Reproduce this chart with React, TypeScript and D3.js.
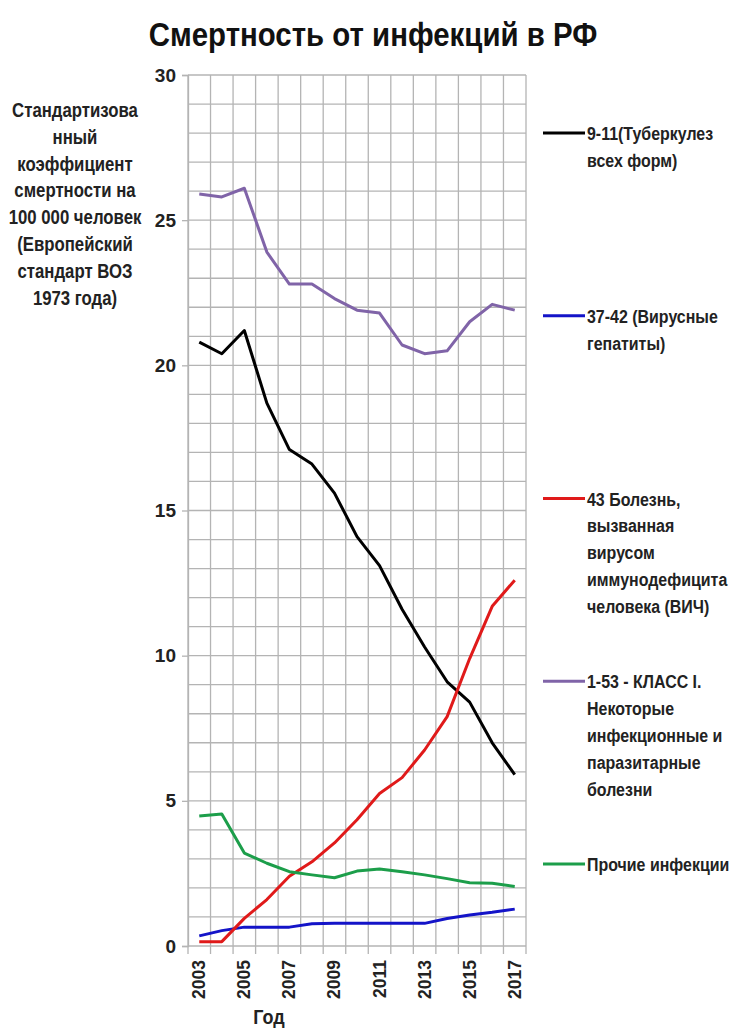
import React, { useEffect, useRef } from 'react';
import * as d3 from 'd3';

const years = ['2003', '2004', '2005', '2006', '2007', '2008', '2009', '2010', '2011', '2012', '2013', '2014', '2015', '2016', '2017'];

const tuberculosis = [20.8, 20.4, 21.2, 18.7, 17.1, 16.6, 15.6, 14.1, 13.1, 11.6, 10.3, 9.1, 8.4, 7.0, 5.9];
const hepatitis = [0.35, 0.53, 0.65, 0.65, 0.65, 0.77, 0.78, 0.78, 0.78, 0.78, 0.78, 0.95, 1.07, 1.16, 1.27];
const hiv = [0.15, 0.15, 0.95, 1.6, 2.4, 2.9, 3.55, 4.35, 5.25, 5.8, 6.75, 7.9, 9.9, 11.7, 12.6];
const classOne = [25.9, 25.8, 26.1, 23.9, 22.8, 22.8, 22.3, 21.9, 21.8, 20.7, 20.4, 20.5, 21.5, 22.1, 21.9];
const otherInfections = [4.48, 4.55, 3.2, 2.85, 2.56, 2.45, 2.35, 2.58, 2.65, 2.56, 2.45, 2.32, 2.18, 2.16, 2.05];

const yTicks = [0, 5, 10, 15, 20, 25, 30];

const series = [
  { name: 'tb', values: tuberculosis, color: '#000000', label: ['9-11(Туберкулез', 'всех форм)'] },
  { name: 'hep', values: hepatitis, color: '#1414c8', label: ['37-42 (Вирусные', 'гепатиты)'] },
  { name: 'hiv', values: hiv, color: '#e01a1a', label: ['43 Болезнь,', 'вызванная', 'вирусом', 'иммунодефицита', 'человека (ВИЧ)'] },
  { name: 'class1', values: classOne, color: '#8064a8', label: ['1-53 - КЛАСС I.', 'Некоторые', 'инфекционные и', 'паразитарные', 'болезни'] },
  { name: 'other', values: otherInfections, color: '#1c9e4a', label: ['Прочие инфекции'] },
];

const yTitle = ['Стандартизова', 'нный', 'коэффициент', 'смертности на', '100 000 человек', '(Европейский', 'стандарт ВОЗ', '1973 года)'];

const FONT = "'Liberation Sans Narrow', 'Arial Narrow', 'Liberation Sans', sans-serif";

const App: React.FC = () => {
  const svgRef = useRef<SVGSVGElement>(null);

  useEffect(() => {
    if (!svgRef.current) return;
    const width = 743;
    const height = 1028;
    const margin = { top: 75, left: 188, right: 217, bottom: 82 };

    const svg = d3.select(svgRef.current);
    svg.selectAll('*').remove();
    svg.attr('width', width).attr('height', height).style('font-family', FONT);

    const x = d3.scaleBand().domain(years).range([margin.left, width - margin.right]);
    const y = d3.scaleLinear().domain([0, 30]).range([height - margin.bottom, margin.top]);

    // grid
    const grid = svg.append('g').attr('stroke', '#b4b4b4').attr('stroke-width', 1.3);
    grid.selectAll('line.h')
      .data(d3.range(0, 31))
      .enter()
      .append('line')
      .attr('x1', margin.left)
      .attr('x2', width - margin.right)
      .attr('y1', d => y(d))
      .attr('y2', d => y(d));
    const xEdges = years.map(yr => x(yr) as number).concat([width - margin.right]);
    grid.selectAll('line.v')
      .data(xEdges)
      .enter()
      .append('line')
      .attr('x1', d => d)
      .attr('x2', d => d)
      .attr('y1', y(30))
      .attr('y2', y(0) + 8);

    // y axis
    const yAxis = svg.append('g')
      .attr('transform', `translate(${margin.left},0)`)
      .call(d3.axisLeft(y).tickValues(yTicks).tickSize(6).tickPadding(6));
    yAxis.select('.domain').attr('stroke', '#b4b4b4').attr('stroke-width', 1.3);
    yAxis.selectAll('.tick line').attr('stroke', '#b4b4b4').attr('stroke-width', 1.3);
    yAxis.selectAll('.tick text')
      .attr('fill', '#222')
      .style('font-size', '19px')
      .style('font-weight', '700')
      .style('font-family', FONT);

    // x labels
    svg.append('g')
      .selectAll('text')
      .data(years.filter((_, i) => i % 2 === 0))
      .enter()
      .append('text')
      .attr('transform', d => `translate(${(x(d) as number) + x.bandwidth() / 2 + 6},${y(0) + 14}) rotate(-90) scale(0.92,1)`)
      .attr('text-anchor', 'end')
      .attr('fill', '#222')
      .style('font-size', '19px')
      .style('font-weight', '700')
      .text(d => d);

    svg.append('text')
      .attr('transform', 'translate(269,1024) scale(0.9,1)')
      .attr('text-anchor', 'middle')
      .attr('fill', '#222')
      .style('font-size', '20px')
      .style('font-weight', '700')
      .text('Год');

    // lines
    const line = d3.line<number>()
      .x((_, i) => (x(years[i]) as number) + x.bandwidth() / 2)
      .y(d => y(d));

    svg.append('g')
      .selectAll('path')
      .data(series)
      .enter()
      .append('path')
      .attr('d', d => line(d.values))
      .attr('fill', 'none')
      .attr('stroke', d => d.color)
      .attr('stroke-width', 3)
      .attr('stroke-linejoin', 'round');

    // legend
    const ly = d3.scalePoint().domain(series.map(s => s.name)).range([133, 864]);
    const legend = svg.append('g')
      .selectAll('g')
      .data(series)
      .enter()
      .append('g')
      .attr('transform', d => `translate(543,${ly(d.name)})`);
    legend.append('line')
      .attr('x1', 0)
      .attr('x2', 42)
      .attr('y1', 0)
      .attr('y2', 0)
      .attr('stroke', d => d.color)
      .attr('stroke-width', 3);
    legend.append('text')
      .attr('transform', 'translate(44,0) scale(0.84,1)')
      .attr('fill', '#222')
      .style('font-size', '19px')
      .style('font-weight', '700')
      .selectAll('tspan')
      .data(d => d.label)
      .enter()
      .append('tspan')
      .attr('x', 0)
      .attr('y', (_, i) => 7 + i * 27)
      .text(d => d);

    // y title
    svg.append('text')
      .attr('transform', 'translate(75,0) scale(0.86,1)')
      .attr('fill', '#222')
      .attr('text-anchor', 'middle')
      .style('font-size', '19.5px')
      .style('font-weight', '700')
      .selectAll('tspan')
      .data(yTitle)
      .enter()
      .append('tspan')
      .attr('x', 0)
      .attr('y', (_, i) => 117 + i * 26.8)
      .text(d => d);

    // title
    svg.append('text')
      .attr('transform', 'translate(373,46) scale(0.865,1)')
      .attr('text-anchor', 'middle')
      .attr('fill', '#111')
      .style('font-size', '34px')
      .style('font-weight', '700')
      .text('Смертность от инфекций в РФ');
  }, []);

  return (
    <div style={{ position: 'absolute', left: 0, top: 0, background: '#fff' }}>
      <svg ref={svgRef}></svg>
    </div>
  );
};

export default App;
